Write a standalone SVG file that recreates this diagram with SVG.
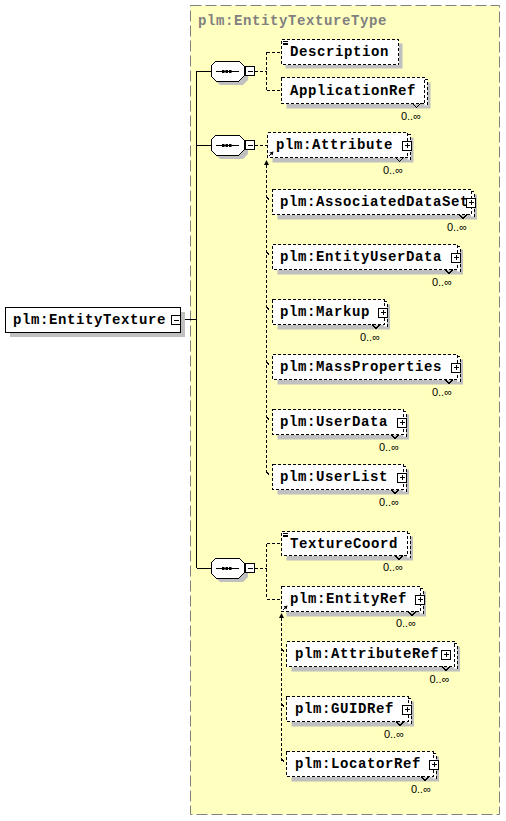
<svg xmlns="http://www.w3.org/2000/svg" width="506" height="821" viewBox="0 0 506 821">
<defs>
<style>
.bg{fill:#ffffc0;stroke:#808080;stroke-dasharray:11 4}
.title{font-family:"Liberation Mono",monospace;font-weight:bold;font-size:14px;letter-spacing:0.6px;fill:#808080}
.t{font-family:"Liberation Mono",monospace;font-weight:bold;font-size:14px;letter-spacing:0.6px;fill:#000}
.oc{font-family:"Liberation Sans","DejaVu Sans",sans-serif;font-size:11px;fill:#000}
.sh{fill:#c0c0c0;stroke:none}
.box{fill:#fff;stroke:#000;stroke-dasharray:3 2;shape-rendering:crispEdges}
.solid{fill:#fff;stroke:#000;shape-rendering:crispEdges}
.ln{fill:none;stroke:#000;shape-rendering:crispEdges}
.dl{fill:none;stroke:#000;stroke-dasharray:3 2;shape-rendering:crispEdges}
.wh{fill:#fff;stroke:none}
.dot{fill:#000}
</style>
</defs>

<rect class="bg" x="190.5" y="5.5" width="309" height="809"/>
<text class="title" x="198" y="25">plm:EntityTextureType</text>

<g id="connectors">
<path class="ln" d="M180.5,319.5H196.5M196.5,71V568M196.5,71H211M196.5,145H211M196.5,568H211"/>
<path class="dl" d="M255,71H266.5M266.5,52V90.5M266.5,52H281.5M266.5,90.5H281.5"/>
<path class="dl" d="M255,145H267.5"/>
<path class="dl" d="M255,568H266.5M266.5,543.5V599M266.5,543.5H281.5M266.5,599H281.5"/>
<path class="dl" d="M266.5,164.5V474.5"/>
<polygon class="dot" points="266.5,160 264,165 269,165"/>
<path class="ln" d="M266.5,196.5l2.5,3.5M266.5,251.5l2.5,3.5M266.5,306.5l2.5,3.5M266.5,361.5l2.5,3.5M266.5,416.5l2.5,3.5M266.5,471.5l2.5,3.5"/>
<path class="dl" d="M281.5,617.5V761.5"/>
<polygon class="dot" points="281.5,613 279,618 284,618"/>
<path class="ln" d="M281.5,648.5l2.5,3.5M281.5,703.5l2.5,3.5M281.5,758.5l2.5,3.5"/>
</g>

<g id="root">
<rect class="sh" x="10" y="312" width="175" height="25"/>
<rect class="solid" x="5.5" y="307.5" width="175" height="25"/>
<text class="t" x="13" y="324">plm:EntityTexture</text>
<rect class="solid" x="171.5" y="315.5" width="9" height="9"/>
<path class="ln" d="M173.5,320H178.5"/>
</g>

<g id="seq1">
<polygon class="sh" points="220,65 243,65 248,70 248,80 243,85 220,85 215,80 215,70"/>
<polygon class="solid" points="216,61 239,61 244,66 244,76 239,81 216,81 211,76 211,66"/>
<path class="ln" d="M216,71.5H239"/>
<rect class="dot" x="222" y="70" width="2.5" height="3"/><rect class="dot" x="225.5" y="70" width="2.5" height="3"/><rect class="dot" x="229" y="70" width="2.5" height="3"/>
<rect class="solid" x="245.5" y="66.5" width="9" height="9"/>
<path class="ln" d="M247.5,71H252.5"/>
</g>
<g id="seq2">
<polygon class="sh" points="220,139 243,139 248,144 248,154 243,159 220,159 215,154 215,144"/>
<polygon class="solid" points="216,135 239,135 244,140 244,150 239,155 216,155 211,150 211,140"/>
<path class="ln" d="M216,145.5H239"/>
<rect class="dot" x="222" y="144" width="2.5" height="3"/><rect class="dot" x="225.5" y="144" width="2.5" height="3"/><rect class="dot" x="229" y="144" width="2.5" height="3"/>
<rect class="solid" x="245.5" y="140.5" width="9" height="9"/>
<path class="ln" d="M247.5,145H252.5"/>
</g>
<g id="seq3">
<polygon class="sh" points="220,562 243,562 248,567 248,577 243,582 220,582 215,577 215,567"/>
<polygon class="solid" points="216,558 239,558 244,563 244,573 239,578 216,578 211,573 211,563"/>
<path class="ln" d="M216,568.5H239"/>
<rect class="dot" x="222" y="567" width="2.5" height="3"/><rect class="dot" x="225.5" y="567" width="2.5" height="3"/><rect class="dot" x="229" y="567" width="2.5" height="3"/>
<rect class="solid" x="245.5" y="563.5" width="9" height="9"/>
<path class="ln" d="M247.5,568H252.5"/>
</g>

<g id="Description">
<rect class="sh" x="285.5" y="43.5" width="117" height="25"/>
<rect class="box" x="281.5" y="39.5" width="117" height="25"/>
<path class="ln" d="M283,41.5h5M283,43h5M283,44.5h5"/>
<text class="t" x="290" y="56">Description</text>
</g>

<g id="ApplicationRef">
<rect class="sh" x="286.5" y="82.5" width="144" height="26"/>
<rect class="wh" x="424.5" y="79.5" width="3" height="26"/>
<rect class="box" x="281.5" y="77.5" width="143" height="26"/>
<path class="dl" d="M424.5,79.5h3v26"/>
<path class="ln" d="M412.5,103.5l4,4l4,-4"/>
<text class="t" x="290" y="94.5">ApplicationRef</text>
<text class="oc" x="421" y="119.5" text-anchor="end">0..∞</text>
</g>

<g id="Attribute">
<rect class="sh" x="272.5" y="137.5" width="141" height="25"/>
<rect class="wh" x="407.5" y="134.5" width="3" height="25"/>
<rect class="box" x="267.5" y="132.5" width="140" height="25"/>
<path class="dl" d="M407.5,134.5h3v25"/>
<path class="ln" d="M395.5,157.5l4,4l4,-4"/>
<path class="ln" d="M269,156L272.5,152.5"/>
<polygon class="dot" points="273.5,151.5 269.5,152.5 272.5,155.5"/>
<text class="t" x="276" y="149">plm:Attribute</text>
<rect class="solid" x="402.5" y="141" width="9" height="9"/>
<path class="ln" d="M404.5,145.5h5M407,143v5"/>
<text class="oc" x="403" y="173.5" text-anchor="end">0..∞</text>
</g>

<g id="AssociatedDataSet">
<rect class="sh" x="277.5" y="194.5" width="199.5" height="25"/>
<rect class="wh" x="471" y="191.5" width="3" height="25"/>
<rect class="box" x="272.5" y="189.5" width="198.5" height="25"/>
<path class="dl" d="M471,191.5h3v25"/>
<path class="ln" d="M459,214.5l4,4l4,-4"/>
<text class="t" x="280" y="206">plm:AssociatedDataSet</text>
<rect class="solid" x="466.5" y="198" width="9" height="9"/>
<path class="ln" d="M468.5,202.5h5M471,200v5"/>
<text class="oc" x="467" y="230.5" text-anchor="end">0..∞</text>
</g>

<g id="EntityUserData">
<rect class="sh" x="277.5" y="249.5" width="185.5" height="25"/>
<rect class="wh" x="457" y="246.5" width="3" height="25"/>
<rect class="box" x="272.5" y="244.5" width="184.5" height="25"/>
<path class="dl" d="M457,246.5h3v25"/>
<path class="ln" d="M445,269.5l4,4l4,-4"/>
<text class="t" x="280" y="261">plm:EntityUserData</text>
<rect class="solid" x="451.5" y="253" width="9" height="9"/>
<path class="ln" d="M453.5,257.5h5M456,255v5"/>
<text class="oc" x="452" y="285.5" text-anchor="end">0..∞</text>
</g>

<g id="Markup">
<rect class="sh" x="277.5" y="304.5" width="112.5" height="25"/>
<rect class="wh" x="384" y="301.5" width="3" height="25"/>
<rect class="box" x="272.5" y="299.5" width="111.5" height="25"/>
<path class="dl" d="M384,301.5h3v25"/>
<path class="ln" d="M372,324.5l4,4l4,-4"/>
<text class="t" x="280" y="316">plm:Markup</text>
<rect class="solid" x="378.5" y="308" width="9" height="9"/>
<path class="ln" d="M380.5,312.5h5M383,310v5"/>
<text class="oc" x="380" y="340.5" text-anchor="end">0..∞</text>
</g>

<g id="MassProperties">
<rect class="sh" x="277.5" y="359.5" width="185.5" height="25"/>
<rect class="wh" x="457" y="356.5" width="3" height="25"/>
<rect class="box" x="272.5" y="354.5" width="184.5" height="25"/>
<path class="dl" d="M457,356.5h3v25"/>
<path class="ln" d="M445,379.5l4,4l4,-4"/>
<text class="t" x="280" y="371">plm:MassProperties</text>
<rect class="solid" x="451.5" y="363" width="9" height="9"/>
<path class="ln" d="M453.5,367.5h5M456,365v5"/>
<text class="oc" x="452" y="395.5" text-anchor="end">0..∞</text>
</g>

<g id="UserData">
<rect class="sh" x="277.5" y="414.5" width="131.5" height="25"/>
<rect class="wh" x="403" y="411.5" width="3" height="25"/>
<rect class="box" x="272.5" y="409.5" width="130.5" height="25"/>
<path class="dl" d="M403,411.5h3v25"/>
<path class="ln" d="M391,434.5l4,4l4,-4"/>
<text class="t" x="280" y="426">plm:UserData</text>
<rect class="solid" x="397.5" y="418" width="9" height="9"/>
<path class="ln" d="M399.5,422.5h5M402,420v5"/>
<text class="oc" x="399" y="450.5" text-anchor="end">0..∞</text>
</g>

<g id="UserList">
<rect class="sh" x="277.5" y="469.5" width="131.5" height="25"/>
<rect class="wh" x="403" y="466.5" width="3" height="25"/>
<rect class="box" x="272.5" y="464.5" width="130.5" height="25"/>
<path class="dl" d="M403,466.5h3v25"/>
<path class="ln" d="M391,489.5l4,4l4,-4"/>
<text class="t" x="280" y="481">plm:UserList</text>
<rect class="solid" x="397.5" y="473" width="9" height="9"/>
<path class="ln" d="M399.5,477.5h5M402,475v5"/>
<text class="oc" x="399" y="505.5" text-anchor="end">0..∞</text>
</g>

<g id="TextureCoord">
<rect class="sh" x="286.5" y="536.5" width="126.5" height="24"/>
<rect class="wh" x="407" y="533.5" width="3" height="24"/>
<rect class="box" x="281.5" y="531.5" width="125.5" height="24"/>
<path class="dl" d="M407,533.5h3v24"/>
<path class="ln" d="M395,555.5l4,4l4,-4"/>
<path class="ln" d="M283,533.5h5M283,535h5M283,536.5h5"/>
<text class="t" x="290" y="547.5">TextureCoord</text>
<text class="oc" x="403" y="570.5" text-anchor="end">0..∞</text>
</g>

<g id="EntityRef">
<rect class="sh" x="286.5" y="591.5" width="139.5" height="25"/>
<rect class="wh" x="420" y="588.5" width="3" height="25"/>
<rect class="box" x="281.5" y="586.5" width="138.5" height="25"/>
<path class="dl" d="M420,588.5h3v25"/>
<path class="ln" d="M408,611.5l4,4l4,-4"/>
<path class="ln" d="M283,610L286.5,606.5"/>
<polygon class="dot" points="287.5,605.5 283.5,606.5 286.5,609.5"/>
<text class="t" x="290" y="603">plm:EntityRef</text>
<rect class="solid" x="415.5" y="595" width="9" height="9"/>
<path class="ln" d="M417.5,599.5h5M420,597v5"/>
<text class="oc" x="416" y="626.5" text-anchor="end">0..∞</text>
</g>

<g id="AttributeRef">
<rect class="sh" x="291.5" y="646.5" width="168.5" height="25"/>
<rect class="wh" x="454" y="643.5" width="3" height="25"/>
<rect class="box" x="286.5" y="641.5" width="167.5" height="25"/>
<path class="dl" d="M454,643.5h3v25"/>
<path class="ln" d="M442,666.5l4,4l4,-4"/>
<text class="t" x="295" y="658">plm:AttributeRef</text>
<rect class="solid" x="441.5" y="650" width="9" height="9"/>
<path class="ln" d="M443.5,654.5h5M446,652v5"/>
<text class="oc" x="449.5" y="682.5" text-anchor="end">0..∞</text>
</g>

<g id="GUIDRef">
<rect class="sh" x="291.5" y="701.5" width="122.5" height="25"/>
<rect class="wh" x="408" y="698.5" width="3" height="25"/>
<rect class="box" x="286.5" y="696.5" width="121.5" height="25"/>
<path class="dl" d="M408,698.5h3v25"/>
<path class="ln" d="M396,721.5l4,4l4,-4"/>
<text class="t" x="295" y="713">plm:GUIDRef</text>
<rect class="solid" x="402.5" y="705" width="9" height="9"/>
<path class="ln" d="M404.5,709.5h5M407,707v5"/>
<text class="oc" x="404" y="737.5" text-anchor="end">0..∞</text>
</g>

<g id="LocatorRef">
<rect class="sh" x="291.5" y="756.5" width="147.5" height="25"/>
<rect class="wh" x="433" y="753.5" width="3" height="25"/>
<rect class="box" x="286.5" y="751.5" width="146.5" height="25"/>
<path class="dl" d="M433,753.5h3v25"/>
<path class="ln" d="M421,776.5l4,4l4,-4"/>
<text class="t" x="295" y="768">plm:LocatorRef</text>
<rect class="solid" x="429.5" y="760" width="9" height="9"/>
<path class="ln" d="M431.5,764.5h5M434,762v5"/>
<text class="oc" x="431" y="792.5" text-anchor="end">0..∞</text>
</g>
</svg>
